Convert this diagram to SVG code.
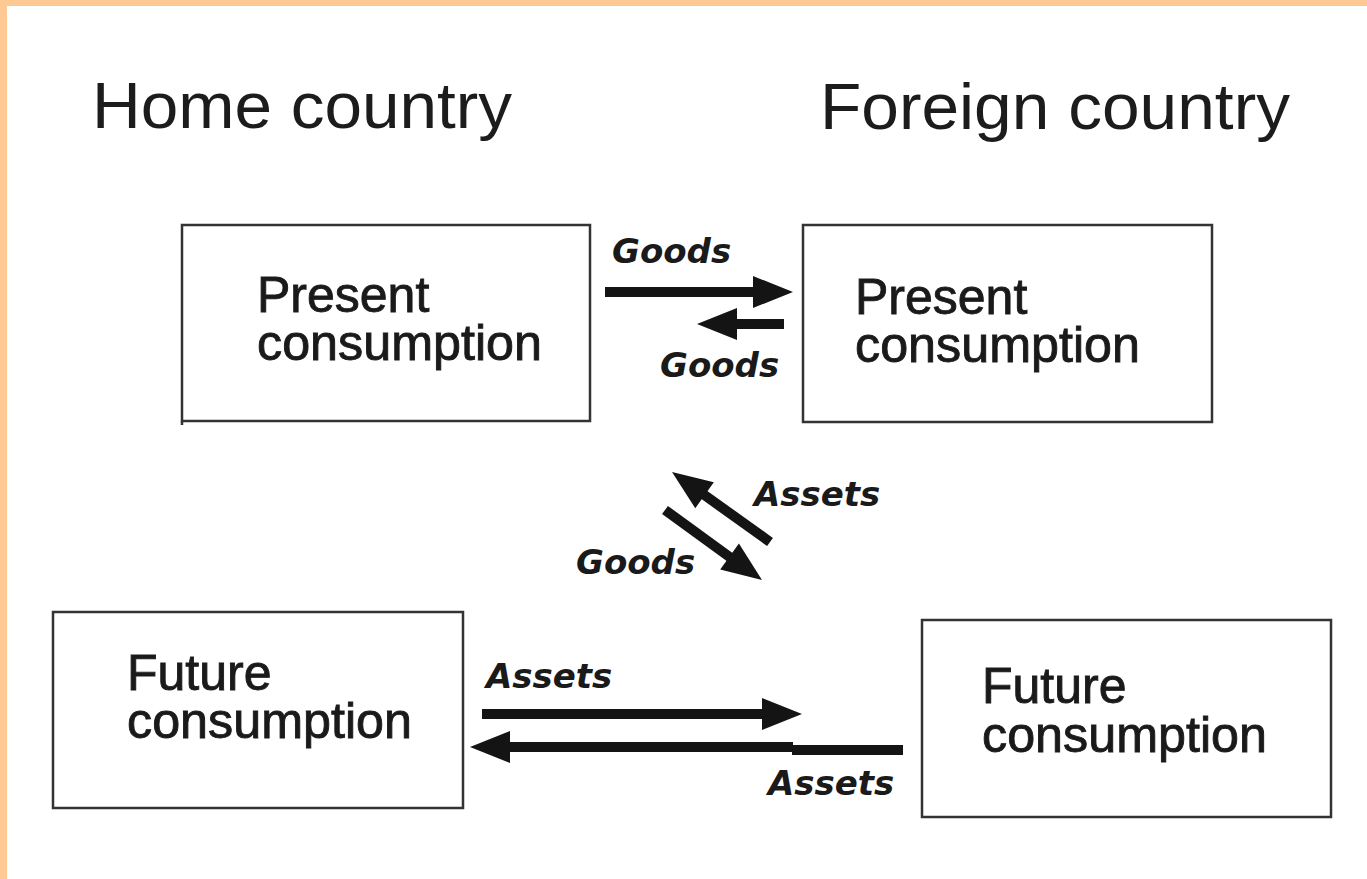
<svg xmlns="http://www.w3.org/2000/svg" width="1367" height="879" viewBox="0 0 1367 879">
  <defs>
    <style>
      .title { font-family: "Liberation Sans", Arial, sans-serif; font-size: 64px; fill: #1c1c1c; }
      .box { fill: #ffffff; stroke: #333333; stroke-width: 2.5; }
      .boxtext { font-family: "Liberation Sans", Arial, sans-serif; font-size: 50px; fill: #1a1a1a; stroke: #1a1a1a; stroke-width: 0.9; }
      .flow { font-family: "DejaVu Sans", Verdana, sans-serif; font-size: 34px; font-weight: bold; font-style: italic; fill: #1a1a1a; }
      .shaft { stroke: #141414; stroke-width: 10; fill: none; stroke-linecap: butt; }
      .head { fill: #141414; }
    </style>
    <!-- arrow head pointing along +x, tip at origin -->
    <path id="head" d="M0,0 L-40,-16 L-40,16 Z"/>
  </defs>

  <!-- page background with peach frame on top and left -->
  <rect x="0" y="0" width="1367" height="879" fill="#ffffff"/>
  <rect x="0" y="0" width="1367" height="6" fill="#ffc994"/>
  <rect x="0" y="0" width="7" height="879" fill="#ffc994"/>

  <!-- column headings -->
  <text class="title" x="92" y="128" textLength="420" lengthAdjust="spacingAndGlyphs">Home country</text>
  <text class="title" x="820" y="129" textLength="470" lengthAdjust="spacingAndGlyphs">Foreign country</text>

  <g id="home-present">
    <rect class="box" x="182" y="225" width="408" height="196"/>
    <line x1="182" y1="421" x2="182" y2="425" stroke="#333333" stroke-width="2.5"/>
    <text class="boxtext" x="257" y="312">Present</text>
    <text class="boxtext" x="257" y="360" textLength="285" lengthAdjust="spacingAndGlyphs">consumption</text>
  </g>

  <g id="foreign-present">
    <rect class="box" x="803" y="225" width="409" height="197"/>
    <text class="boxtext" x="855" y="314">Present</text>
    <text class="boxtext" x="855" y="362" textLength="285" lengthAdjust="spacingAndGlyphs">consumption</text>
  </g>

  <g id="home-future">
    <rect class="box" x="53" y="612" width="410" height="196"/>
    <text class="boxtext" x="127" y="690">Future</text>
    <text class="boxtext" x="127" y="738" textLength="285" lengthAdjust="spacingAndGlyphs">consumption</text>
  </g>

  <g id="foreign-future">
    <rect class="box" x="922" y="620" width="409" height="197"/>
    <text class="boxtext" x="982" y="703">Future</text>
    <text class="boxtext" x="982" y="752" textLength="285" lengthAdjust="spacingAndGlyphs">consumption</text>
  </g>

  <g id="connectors">
    <!-- present goods: home to foreign -->
    <line class="shaft" x1="605" y1="292" x2="756" y2="292"/>
    <use href="#head" class="head" transform="translate(793,292)"/>
    <!-- present goods: foreign to home -->
    <line class="shaft" x1="784" y1="324" x2="734" y2="324"/>
    <use href="#head" class="head" transform="translate(697,324) rotate(180)"/>
    <!-- assets: present foreign back to present home -->
    <line class="shaft" x1="770" y1="542" x2="703" y2="494"/>
    <use href="#head" class="head" transform="translate(672,472) rotate(215.5)"/>
    <!-- goods: present home toward future -->
    <line class="shaft" x1="665" y1="510" x2="731" y2="558"/>
    <use href="#head" class="head" transform="translate(762,580) rotate(35.8)"/>
    <!-- future assets: home to foreign -->
    <line class="shaft" x1="482" y1="714" x2="765" y2="714"/>
    <use href="#head" class="head" transform="translate(802,714)"/>
    <!-- future assets: foreign to home -->
    <line class="shaft" x1="507" y1="747" x2="793" y2="747"/>
    <line class="shaft" x1="792" y1="750" x2="903" y2="750"/>
    <use href="#head" class="head" transform="translate(470,747) rotate(180)"/>
  </g>

  <g id="flow-labels">
    <text class="flow" x="612" y="263">Goods</text>
    <text class="flow" x="660" y="377">Goods</text>
    <text class="flow" x="754" y="506">Assets</text>
    <text class="flow" x="576" y="574">Goods</text>
    <text class="flow" x="486" y="688">Assets</text>
    <text class="flow" x="768" y="795">Assets</text>
  </g>
</svg>
